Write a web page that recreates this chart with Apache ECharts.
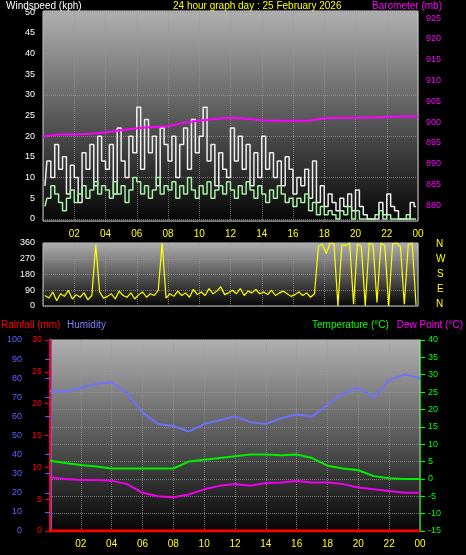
<!DOCTYPE html><html><head><meta charset="utf-8">
<script src="https://cdn.jsdelivr.net/npm/echarts@6/dist/echarts.min.js"></script>
<style>html,body{margin:0;background:#000}#c{width:466px;height:555px}</style></head><body><div id="c"></div><script>
const hourLabels=['02','04','06','08','10','12','14','16','18','20','22','00'];
const gust=[8,14,10,18,12,15,6,13, 10,4,16,12,18,8,20,14, 12,18,6,22,14,10,20,16, 27,12,24,16,20,8,22,18, 14,20,10,18,22,12,24,16, 20,27,14,18,8,16,12,10, 22,14,20,12,18,8,16,10, 20,12,16,10,14,8,15,12, 6,10,8,12,5,14,4,8, 3,6,4,2,5,3,6,2, 7,3,1,0,0,0,4,1, 6,3,2,0,0,0,4,3];
const avgWind=[3,5,8,6,4,2,5,7, 4,6,8,5,7,9,6,8, 7,5,9,6,8,4,7,10, 9,6,8,5,7,10,6,8, 7,9,5,8,6,10,7,5, 8,6,9,5,7,8,6,9, 7,5,8,6,9,7,5,8, 6,4,7,5,8,6,4,5, 3,5,4,6,2,4,1,3, 1,2,1,0,2,1,3,0, 2,0,0,0,0,1,2,0, 1,0,0,0,0,1,0,0];
const baro=[896.5,897,897,897.2,897.5,898,898.5,898.8,899,899.8,900.3,900.7,901,900.8,900.4,900.3,900.3,900.3,900.9,901,901,901.1,901.2,901.3,901.3];
const direction=[60,45,80,30,70,55,90,40, 65,50,75,35,60,350,80,45, 55,70,40,85,60,50,75,40, 65,80,50,70,60,90,360,45, 70,55,85,60,75,50,95,65, 80,60,100,70,85,110,65,75, 90,70,100,60,85,75,95,70, 80,65,90,60,75,85,70,55, 65,80,60,75,50,70,340,355, 300,360,355,0,350,345,360,10, 355,340,0,360,350,20,360,345, 0,355,360,340,10,350,360,5];
const humidity=[73,73,75,77,78,72,62,56,55,52,56,58,60,57,56,59,61,60,66,72,75,70,79,82,80];
const temperature=[5.2,4.6,4,3.6,3,3,3,3,3,5,5.5,6,6.5,7,7,6.8,7,6,3.8,3,2.5,0.8,0.2,0,0];
const dewPoint=[0.5,0,-0.3,-0.3,-0.5,-1.5,-4,-5,-5.3,-4.5,-3,-2,-1.5,-2,-1.2,-1,-0.6,-1,-1,-1.5,-2.5,-3,-3.5,-4,-4];
const rainfall=[0,0,0,0,0,0,0,0,0,0,0,0,0,0,0,0,0,0,0,0,0,0,0,0,0];

const q=a=>a.map((v,i)=>[i*0.25+0.125,v]);
const hr=a=>a.map((v,i)=>[i,v]);
const bg={type:'linear',x:0,y:0,x2:0,y2:1,colorStops:[{offset:0,color:'#b0b0b0'},{offset:1,color:'#050505'}]};
const split={show:true,lineStyle:{color:'#9a9a9a',type:'dotted',opacity:0.7}};
function xa(gi,show){return {type:'value',gridIndex:gi,min:0,max:24,interval:2,
 axisLine:{show:false},axisTick:{show:false},splitLine:split,
 axisLabel:{show:show,color:'#ffff00',fontSize:10,formatter:v=>v===0?'':(v===24?'00':String(v).padStart(2,'0'))}};}
function ya(gi,o){return Object.assign({type:'value',gridIndex:gi,splitLine:{show:false},
 axisTick:{show:true,length:3},axisLine:{show:true}},o);}
const chart=echarts.init(document.getElementById('c'));
const F='10px "Liberation Sans"';
const T=(x,y,t,c,a)=>({type:'text',left:a?undefined:x,right:a?x:undefined,top:y,style:{text:t,fill:c,font:F}});
chart.setOption({backgroundColor:'#000',animation:false,
 graphic:[T(6,1,'Windspeed (kph)','#fff'),T(173,1,'24 hour graph day : 25 February 2026','#ffff00'),T(24,1,'Barometer (mb)','#ff00ff',1),
  T(1,320,'Rainfall (mm)','#ff0000'),T(67,320,'Humidity','#8080ff'),T(312,320,'Temperature (°C)','#00ff00'),T(3,320,'Dew Point (°C)','#ff00ff',1),
  T(436,239,'N','#ffff00'),T(436,254,'W','#ffff00'),T(437,269,'S','#ffff00'),T(437,284,'E','#ffff00'),T(436,299,'N','#ffff00')],
 grid:[{left:43,right:48,top:11,height:210,show:true,backgroundColor:bg,borderColor:'#ccc',borderWidth:1},
  {left:43,right:48,top:243,height:63,show:true,backgroundColor:bg,borderColor:'#ccc',borderWidth:1},
  {left:50,right:46,top:340,height:191,show:true,backgroundColor:bg,borderColor:'#ccc',borderWidth:1}],
 xAxis:[xa(0,true),xa(1,false),xa(2,true)],
 yAxis:[ya(0,{min:-0.5,max:50.25,axisLine:{show:false},axisTick:{show:false},axisLabel:{color:'#fff',fontSize:9,customValues:[0,5,10,15,20,25,30,35,40,45,50]},splitLine:Object.assign({},split,{customValues:[0,5,10,15,20,25,30,35,40,45,50]})}),
  ya(0,{position:'right',min:876.2,max:926.7,axisLine:{show:false},axisTick:{show:false},axisLabel:{color:'#ff00ff',fontSize:9,customValues:[880,885,890,895,900,905,910,915,920,925]}}),
  ya(1,{min:0,max:360,interval:90,axisLine:{show:false},axisTick:{show:false},axisLabel:{color:'#fff',fontSize:9},splitLine:split}),
  ya(2,{position:'left',min:0,max:100,interval:10,offset:20,axisLine:{lineStyle:{color:'#6060ff',width:3}},axisTick:{lineStyle:{color:'#6060ff'}},axisLabel:{color:'#6060ff',fontSize:9}}),
  ya(2,{position:'left',min:0,max:30,interval:5,axisLine:{lineStyle:{color:'#ff0000',width:2}},axisTick:{lineStyle:{color:'#ff0000'}},axisLabel:{color:'#ff0000',fontSize:9}}),
  ya(2,{position:'right',min:-15,max:40,interval:5,axisLine:{lineStyle:{color:'#00cc00'}},axisTick:{lineStyle:{color:'#00ff00'}},axisLabel:{color:'#00ff00',fontSize:9},splitLine:split})],
 series:[
  {type:'line',xAxisIndex:0,yAxisIndex:0,data:q(gust),step:'middle',symbol:'none',lineStyle:{color:'#eeeeee',width:1.5}},
  {type:'line',xAxisIndex:0,yAxisIndex:0,data:q(avgWind),step:'middle',symbol:'none',lineStyle:{color:'#a8f0a8',width:1.5}},
  {type:'line',xAxisIndex:0,yAxisIndex:1,data:hr(baro),symbol:'none',lineStyle:{color:'#ff00ff',width:2}},
  {type:'line',xAxisIndex:1,yAxisIndex:2,data:q(direction),symbol:'none',lineStyle:{color:'#ffff00',width:1.2}},
  {type:'line',xAxisIndex:2,yAxisIndex:3,data:hr(humidity),symbol:'none',lineStyle:{color:'#7070ff',width:2}},
  {type:'line',xAxisIndex:2,yAxisIndex:4,data:hr(rainfall),symbol:'none',lineStyle:{color:'#ff0000',width:3}},
  {type:'line',xAxisIndex:2,yAxisIndex:5,data:hr(temperature),symbol:'none',lineStyle:{color:'#00ee00',width:2}},
  {type:'line',xAxisIndex:2,yAxisIndex:5,data:hr(dewPoint),symbol:'none',lineStyle:{color:'#ee00ee',width:2}}
 ]});
</script></body></html>
